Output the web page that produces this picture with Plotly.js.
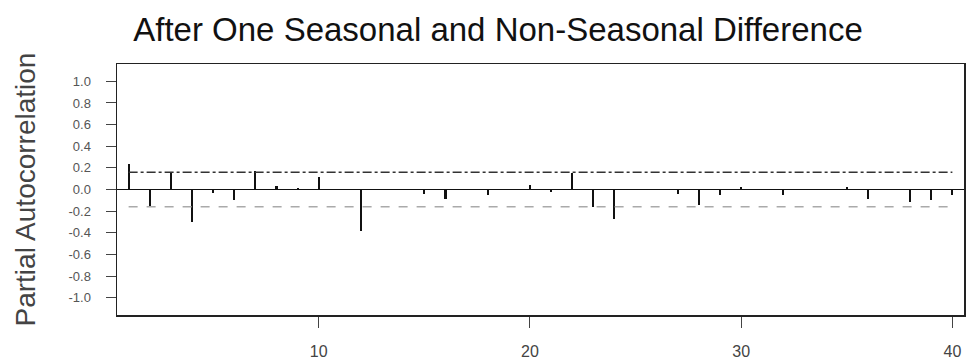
<!DOCTYPE html>
<html>
<head>
<meta charset="utf-8">
<script src="https://cdn.plot.ly/plotly-3.0.1.min.js"></script>
<style>html,body{margin:0;padding:0;background:#fff;}#chart{width:971px;height:362px;}</style>
</head>
<body>
<div id="chart"></div>
<script>
// Lags and partial autocorrelation values
const lags = [1,2,3,4,5,6,7,8,9,10,11,12,13,14,15,16,17,18,19,20,21,22,23,24,25,26,27,28,29,30,31,32,33,34,35,36,37,38,39,40];
const pacf = [0.24,-0.16,0.15,-0.30,-0.035,-0.10,0.17,0.03,0.01,0.12,-0.005,-0.38,0.005,-0.005,-0.04,-0.085,0.005,-0.055,-0.005,0.04,-0.025,0.148,-0.16,-0.27,-0.005,0.005,-0.045,-0.14,-0.055,0.02,-0.005,-0.055,0.005,-0.005,0.025,-0.085,-0.005,-0.115,-0.10,-0.055];
const bandLags = [1, 40];
const upperBand = [0.16, 0.16];
const lowerBand = [-0.16, -0.16];
const yTickVals = [-1.0,-0.8,-0.6,-0.4,-0.2,0.0,0.2,0.4,0.6,0.8,1.0];
const yTickText = ['-1.0','-0.8','-0.6','-0.4','-0.2','0.0','0.2','0.4','0.6','0.8','1.0'];
const xTickVals = [10,20,30,40];
const titleText = 'After One Seasonal and Non-Seasonal Difference';
const yTitleText = 'Partial Autocorrelation';

const traces = [
  {type:'bar', x:lags, y:pacf, width:0.1, marker:{color:'#111', line:{width:0}}, hoverinfo:'x+y'},
  {type:'scatter', mode:'lines', x:bandLags, y:upperBand, line:{color:'#333', width:1.6, dash:'dashdot'}},
  {type:'scatter', mode:'lines', x:bandLags, y:lowerBand, line:{color:'#aaa', width:1.6, dash:'dash'}}
];

const layout = {
  width:971, height:362,
  margin:{l:117, r:7, t:64, b:47, pad:0},
  paper_bgcolor:'#fff', plot_bgcolor:'#fff',
  showlegend:false,
  bargap:0,
  font:{family:'Liberation Sans, Arial, sans-serif', color:'#222'},
  title:{text:titleText, font:{size:33, color:'#111', family:'Liberation Sans, Arial, sans-serif'},
         xref:'container', yref:'container', x:498/971, xanchor:'center', y:1-29/362, yanchor:'middle'},
  xaxis:{range:[0.45,40.55], tickvals:xTickVals, ticktext:xTickVals.map(String),
         ticks:'outside', ticklen:11, tickwidth:1, tickcolor:'#444', ticklabelstandoff:10,
         tickfont:{size:16, color:'#444'},
         showgrid:false, zeroline:false, showline:true, mirror:true, linecolor:'#222', linewidth:1.5},
  yaxis:{range:[-1.16,1.16], tickvals:yTickVals, ticktext:yTickText,
         ticks:'outside', ticklen:10, tickwidth:1, tickcolor:'#444', ticklabelstandoff:12,
         tickfont:{size:13, color:'#555'},
         showgrid:false, zeroline:true, zerolinecolor:'#111', zerolinewidth:1,
         showline:true, mirror:true, linecolor:'#222', linewidth:1.5},
  annotations:[{text:yTitleText, textangle:-90, xref:'paper', yref:'paper',
                x:(25-117)/847, y:0.5, xanchor:'center', yanchor:'middle', showarrow:false,
                font:{size:28, color:'#444', family:'Liberation Sans, Arial, sans-serif'}}]
};

Plotly.newPlot('chart', traces, layout, {displayModeBar:false, staticPlot:true});
</script>
</body>
</html>
